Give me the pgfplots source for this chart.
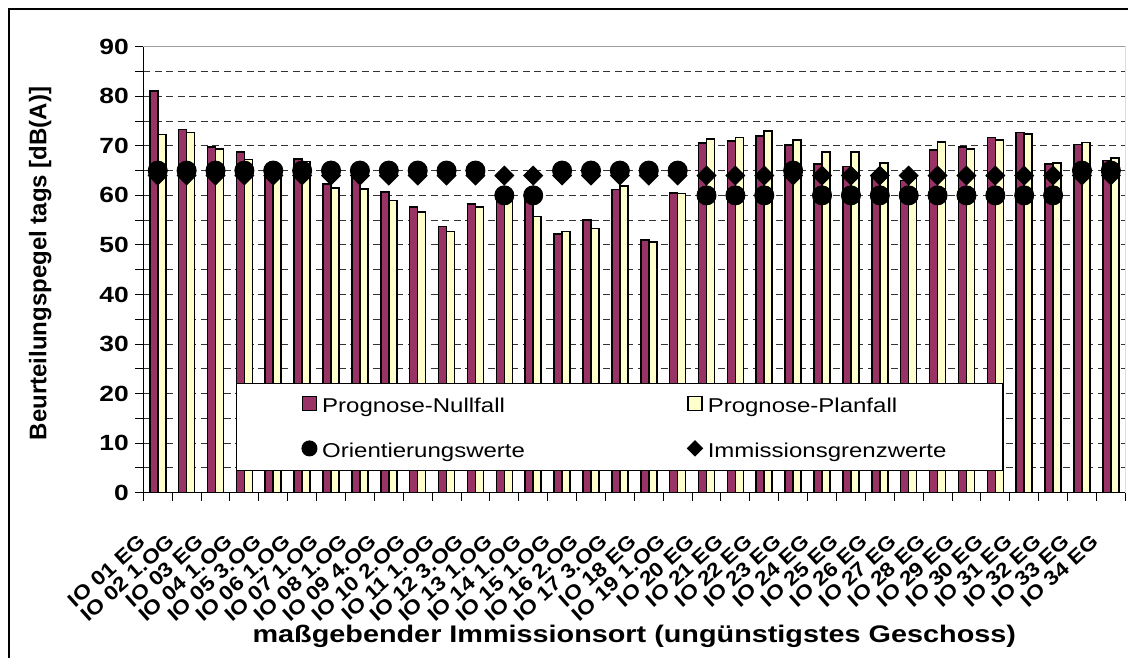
\documentclass[border=0pt]{standalone}
\usepackage{fontspec}
\usepackage{pgfplots}
\pgfplotsset{compat=1.18}
\setmainfont{Liberation Sans}
\newfontfamily\wfont{Liberation Sans}[FakeStretch=1.2]
\newfontfamily\xfont{Liberation Sans}[FakeStretch=1.15]
\definecolor{plum}{HTML}{993366}
\definecolor{ivory}{HTML}{FFFFCC}
\begin{document}
\begin{tikzpicture}[x=1pt,y=1pt]
\useasboundingbox (0,0) rectangle (1128,658);
\draw[line width=1.3pt] (9,-5) -- (9,649) -- (1140,649);
\begin{axis}[
  at={(143.3pt,165.3pt)}, anchor=south west,
  scale only axis, width=982pt, height=446pt,
  xmin=0.5, xmax=34.5, ymin=0, ymax=90,
  axis x line*=bottom, axis y line*=left,
  axis line style={-, line width=1.3pt, black},
  xtick={0.5,1.5,...,34.5},
  x tick label as interval,
  xticklabels={IO 01 EG, IO 02 1.OG, IO 03 EG, IO 04 1.OG, IO 05 3.OG, IO 06 1.OG, IO 07 1.OG, IO 08 1.OG, IO 09 4.OG, IO 10 2.OG, IO 11 1.OG, IO 12 3.OG, IO 13 1.OG, IO 14 1.OG, IO 15 1.OG, IO 16 2.OG, IO 17 3.OG, IO 18 EG, IO 19 1.OG, IO 20 EG, IO 21 EG, IO 22 EG, IO 23 EG, IO 24 EG, IO 25 EG, IO 26 EG, IO 27 EG, IO 28 EG, IO 29 EG, IO 30 EG, IO 31 EG, IO 32 EG, IO 33 EG, IO 34 EG},
  xticklabel style={font=\xfont\bfseries\fontsize{20}{20}\selectfont, xshift=-13pt, yshift=-36pt, rotate=42, anchor=east, inner sep=3pt},
  ytick={0,10,...,80}, extra y ticks={90}, extra y tick style={grid=none},
  minor ytick={5,15,...,85},
  ymajorgrids, yminorgrids,
  major grid style={black!80, dash pattern=on 7pt off 4.5pt, line width=1pt},
  minor grid style={black!80, dash pattern=on 7pt off 4.5pt, line width=1pt},
  tick align=outside,
  major tick length=8pt, minor tick length=8pt,
  tick style={black, line width=1pt},
  /pgf/number format/assume math mode=true,
  yticklabel style={font=\wfont\bfseries\fontsize{22}{22}\selectfont, xshift=-3pt},
  xlabel={maßgebender Immissionsort (ungünstigstes Geschoss)},
  xlabel style={font=\wfont\bfseries\fontsize{24}{24}\selectfont, at={(axis description cs:0.5,-0.337)}, anchor=base},
  ylabel={Beurteilungspegel tags [dB(A)]},
  ylabel style={font=\bfseries\fontsize{24}{24}\selectfont, at={(axis description cs:-0.105,0.514)}, anchor=center},
  legend columns=2,
  legend cell align=left,
  legend style={at={(axis description cs:0.0944,0.246)}, anchor=north west, draw=black, line width=1.3pt,
    inner xsep=0pt, inner ysep=11pt, row sep=25pt,
    font=\wfont\fontsize{20}{24}\selectfont,
    nodes={inner xsep=5pt, inner ysep=0pt, text width=290pt, text height=18pt, text depth=2pt},
    /tikz/every even column/.append style={column sep=5pt}},
]
\addplot[ybar, bar width=8pt, bar shift=-4pt, fill=plum, draw=black, line width=1.6pt,
  legend image code/.code={\path (-64pt,0pt); \draw[line width=1.5pt, fill=plum] (1pt,-5.8pt) rectangle (15pt,8.2pt);}]
coordinates {(1,81.1) (2,73.3) (3,69.7) (4,68.7) (5,65.5) (6,67.3) (7,62.3) (8,64.5) (9,60.7) (10,57.7) (11,53.7) (12,58.3) (13,61.0) (14,60.5) (15,52.2) (16,55.0) (17,61.2) (18,51.0) (19,60.5) (20,70.6) (21,71.0) (22,72.0) (23,70.2) (24,66.3) (25,65.8) (26,63.5) (27,63.0) (28,69.1) (29,69.7) (30,71.7) (31,72.7) (32,66.3) (33,70.3) (34,67.0)};
\addlegendentry{Prognose-Nullfall}
\addplot[ybar, bar width=8pt, bar shift=4pt, fill=ivory, draw=black, line width=1.6pt,
  legend image code/.code={\path (-64pt,0pt); \draw[line width=1.5pt, fill=ivory] (1pt,-5.8pt) rectangle (15pt,8.2pt);}]
coordinates {(1,72.3) (2,72.7) (3,69.4) (4,67.2) (5,65.0) (6,66.8) (7,61.5) (8,61.3) (9,59.0) (10,56.6) (11,52.7) (12,57.7) (13,60.0) (14,55.7) (15,52.7) (16,53.3) (17,61.9) (18,50.6) (19,60.4) (20,71.4) (21,71.7) (22,73.0) (23,71.2) (24,68.7) (25,68.8) (26,66.5) (27,63.5) (28,70.8) (29,69.3) (30,71.2) (31,72.4) (32,66.5) (33,70.7) (34,67.5)};
\addlegendentry{Prognose-Planfall}
\addplot[only marks, mark=*, mark size=9.5pt, mark options={fill=black, draw=black, line width=1pt},
  legend image code/.code={\path (-64pt,0pt); \draw[only marks, mark=*, mark size=7.5pt, mark options={fill=black, draw=black, line width=1pt}] plot coordinates {(8pt,1.2pt)};}]
coordinates {(1,65) (2,65) (3,65) (4,65) (5,65) (6,65) (7,65) (8,65) (9,65) (10,65) (11,65) (12,65) (13,60) (14,60) (15,65) (16,65) (17,65) (18,65) (19,65) (20,60) (21,60) (22,60) (23,65) (24,60) (25,60) (26,60) (27,60) (28,60) (29,60) (30,60) (31,60) (32,60) (33,65) (34,65)};
\addlegendentry{Orientierungswerte}
\addplot[only marks, mark=square*, mark size=6.6pt, mark options={rotate=45, fill=black, draw=black, line width=1pt},
  legend image code/.code={\path (-64pt,0pt); \draw[only marks, mark=square*, mark size=5.3pt, mark options={rotate=45, fill=black, draw=black, line width=1pt}] plot coordinates {(8pt,1.2pt)};}]
coordinates {(1,64) (2,64) (3,64) (4,64) (5,64) (6,64) (7,64) (8,64) (9,64) (10,64) (11,64) (12,64) (13,64) (14,64) (15,64) (16,64) (17,64) (18,64) (19,64) (20,64) (21,64) (22,64) (23,64) (24,64) (25,64) (26,64) (27,64) (28,64) (29,64) (30,64) (31,64) (32,64) (33,64) (34,64)};
\addlegendentry{Immissionsgrenzwerte}
\draw[gray!75, line width=1.3pt] (rel axis cs:0,1) -- (rel axis cs:1,1) -- (rel axis cs:1,0);
\end{axis}
\end{tikzpicture}
\end{document}
